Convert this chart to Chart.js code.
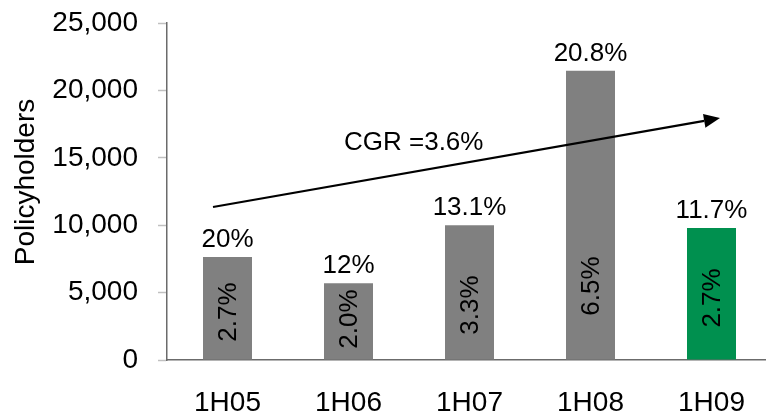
<!DOCTYPE html>
<html>
<head>
<meta charset="utf-8">
<script src="https://cdn.jsdelivr.net/npm/chart.js@4/dist/chart.umd.min.js"></script>
<style>
  html, body { margin: 0; padding: 0; background: #fff; overflow: hidden; }
  #wrap { width: 772px; height: 415px; }
</style>
</head>
<body>
<div id="wrap"><canvas id="c" width="772" height="415"></canvas></div>
<script>
// Policyholders by half-year
const periods = ['1H05', '1H06', '1H07', '1H08', '1H09'];
const policyholders = [7650, 5700, 10000, 21450, 9800];
const growthLabels = ['20%', '12%', '13.1%', '20.8%', '11.7%'];
const shareLabels = ['2.7%', '2.0%', '3.3%', '6.5%', '2.7%'];
const barColors = ['#808080', '#808080', '#808080', '#808080', '#00904F'];
const yTicks = [0, 5000, 10000, 15000, 20000, 25000];
const yTitle = 'Policyholders';

// where the rotated share label sits inside each bar (value units)
const shareLabelAt = [3560, 3040, 4080, 5490, 4600];

// trend arrow ends (category index, value) and its caption
const trendStart = [-0.12, 11350];
const trendEnd = [4.07, 17950];
const trendCaption = 'CGR =3.6%';

const FONT = '"Liberation Sans", Arial, sans-serif';

const labelPlugin = {
  id: 'barLabels',
  afterDatasetsDraw(chart) {
    const ctx = chart.ctx;
    const meta = chart.getDatasetMeta(0);
    const x = chart.scales.x, y = chart.scales.y;
    ctx.save();
    ctx.fillStyle = '#000';
    ctx.font = '26px ' + FONT;
    meta.data.forEach((bar, i) => {
      // growth label above the bar
      ctx.textAlign = 'center';
      ctx.textBaseline = 'middle';
      ctx.fillText(growthLabels[i], bar.x, bar.y - 17);
      // rotated share label inside the bar
      ctx.save();
      ctx.translate(bar.x, y.getPixelForValue(shareLabelAt[i]));
      ctx.rotate(-Math.PI / 2);
      ctx.textAlign = 'center';
      ctx.textBaseline = 'middle';
      ctx.fillText(shareLabels[i], 0, 1);
      ctx.restore();
    });

    // trend arrow
    const x0 = x.getPixelForValue(trendStart[0]), y0 = y.getPixelForValue(trendStart[1]);
    const x1 = x.getPixelForValue(trendEnd[0]), y1 = y.getPixelForValue(trendEnd[1]);
    const ang = Math.atan2(y1 - y0, x1 - x0);
    const headLen = 16, headHalf = 7;
    const bx = x1 - headLen * Math.cos(ang), by = y1 - headLen * Math.sin(ang);
    ctx.strokeStyle = '#000';
    ctx.lineWidth = 2.2;
    ctx.beginPath();
    ctx.moveTo(x0, y0);
    ctx.lineTo(bx, by);
    ctx.stroke();
    ctx.beginPath();
    ctx.moveTo(x1, y1);
    ctx.lineTo(bx - headHalf * Math.sin(ang), by + headHalf * Math.cos(ang));
    ctx.lineTo(bx + headHalf * Math.sin(ang), by - headHalf * Math.cos(ang));
    ctx.closePath();
    ctx.fill();

    // caption above the arrow
    ctx.textAlign = 'left';
    ctx.textBaseline = 'middle';
    ctx.fillText(trendCaption, 344, 143);

    // vertical axis title
    ctx.save();
    ctx.font = '28px ' + FONT;
    ctx.translate(26, 182);
    ctx.rotate(-Math.PI / 2);
    ctx.textAlign = 'center';
    ctx.textBaseline = 'middle';
    ctx.fillText(yTitle, 0, 0);
    ctx.restore();
    ctx.restore();
  }
};

new Chart(document.getElementById('c'), {
  type: 'bar',
  data: {
    labels: periods,
    datasets: [{
      data: policyholders,
      backgroundColor: barColors,
      borderWidth: 0,
      barPercentage: 0.405,
      categoryPercentage: 1.0
    }]
  },
  options: {
    responsive: false,
    animation: false,
    layout: { padding: { top: 23, right: 0, left: 0, bottom: 0 } },
    plugins: { legend: { display: false }, tooltip: { enabled: false } },
    scales: {
      x: {
        grid: { display: false, drawTicks: false },
        border: { display: true, color: '#6b6b6b', width: 1.5 },
        ticks: { color: '#000', font: { family: FONT, size: 28 }, padding: 26 },
        afterFit(s) { s.height = 55; s.paddingLeft = 0; s.paddingRight = 0; }
      },
      y: {
        min: 0, max: 25000,
        afterBuildTicks(s) { s.ticks = yTicks.map(v => ({ value: v })); },
        grid: { drawOnChartArea: false, drawTicks: true, tickLength: 9, color: '#c0c0c0', tickWidth: 1.5 },
        border: { display: true, color: '#6b6b6b', width: 1.5 },
        ticks: {
          color: '#000', font: { family: FONT, size: 28 }, padding: 20,
          callback: v => v.toLocaleString('en-US')
        },
        afterFit(s) { s.width = 167; s.paddingTop = 0; s.paddingBottom = 0; }
      }
    }
  },
  plugins: [labelPlugin]
});
</script>
</body>
</html>
